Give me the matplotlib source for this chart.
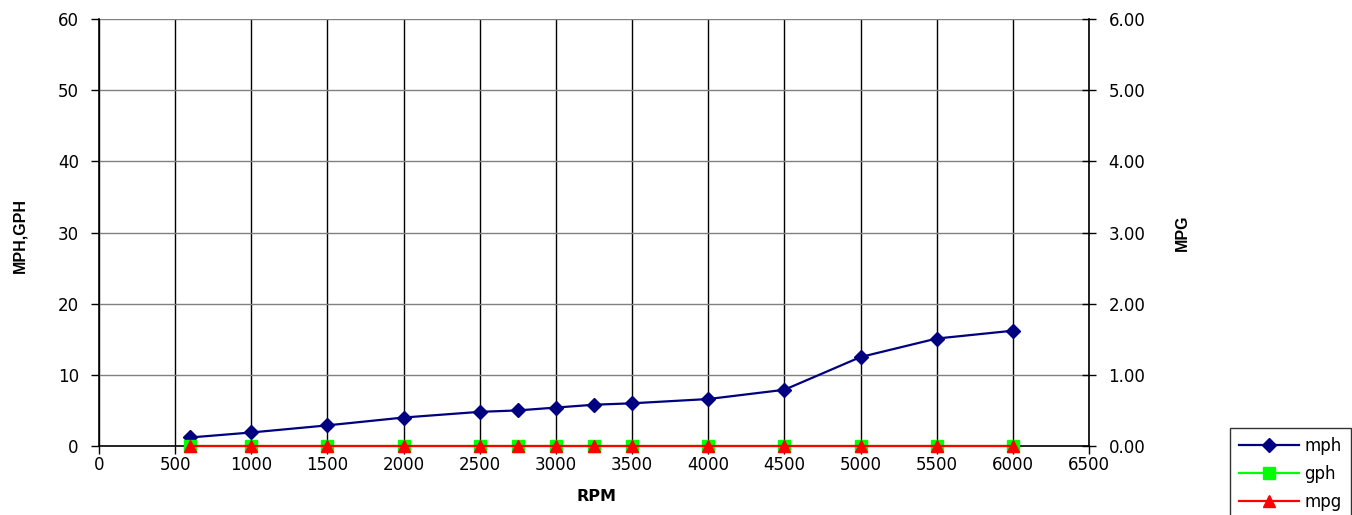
import matplotlib
matplotlib.use("Agg")
import matplotlib.pyplot as plt
from matplotlib.ticker import FormatStrFormatter, MultipleLocator

rpm = [600, 1000, 1500, 2000, 2500, 2750, 3000, 3250, 3500, 4000, 4500, 5000, 5500, 6000]
mph = [1.2, 1.9, 2.9, 4.0, 4.8, 5.0, 5.4, 5.8, 6.0, 6.6, 7.9, 12.5, 15.1, 16.2]
gph = [0, 0, 0, 0, 0, 0, 0, 0, 0, 0, 0, 0, 0, 0]
mpg = [0, 0, 0, 0, 0, 0, 0, 0, 0, 0, 0, 0, 0, 0]

plt.rcParams['font.family'] = ['DejaVu Sans']

fig = plt.figure(figsize=(13.52, 5.15), dpi=100)
ax = fig.add_axes([99/1352, 69/515, 990/1352, 427/515])
ax2 = ax.twinx()

ax.set_xlim(0, 6500)
ax.set_ylim(0, 60)
ax2.set_ylim(0, 6)
ax.xaxis.set_major_locator(MultipleLocator(500))
ax.yaxis.set_major_locator(MultipleLocator(10))
ax2.yaxis.set_major_locator(MultipleLocator(1))
ax2.yaxis.set_major_formatter(FormatStrFormatter('%.2f'))

ax.grid(axis='y', color='#808080', linewidth=1.0)
ax.grid(axis='x', color='black', linewidth=1.0)
ax.set_axisbelow(True)

ax.spines['top'].set_visible(False)
ax2.spines['top'].set_visible(False)
ax2.spines['left'].set_visible(False)
ax2.spines['bottom'].set_visible(False)
ax.spines['right'].set_visible(False)
for sp in [ax.spines['left'], ax.spines['bottom'], ax2.spines['right']]:
    sp.set_color('black')
    sp.set_linewidth(1.2)

ax.tick_params(axis='both', labelsize=12, length=5.5, width=1, colors='black', direction='out')
ax.tick_params(axis='y', pad=9)
ax.tick_params(axis='x', pad=2)
ax2.tick_params(axis='y', labelsize=12, length=10, width=1, direction='inout', pad=9)

l1, = ax.plot(rpm, mph, color='#000080', linewidth=1.6, marker='D', markersize=7, label='mph', zorder=3)
l2, = ax.plot(rpm, gph, color='#00FF00', linewidth=1.6, marker='s', markersize=8, label='gph', zorder=3, clip_on=False)
l3, = ax2.plot(rpm, mpg, color='#FF0000', linewidth=1.6, marker='^', markersize=8.5, label='mpg', zorder=4, clip_on=False)

lab_font = dict(family=['Liberation Sans', 'DejaVu Sans'], fontweight='bold', fontsize=11.5)
ax.set_xlabel('RPM', fontweight='bold', fontsize=11.5)
ax.set_ylabel('MPH,GPH', **lab_font)
ax2.set_ylabel('MPG', **lab_font)
ax.xaxis.set_label_coords(0.503, -0.119)
ax.xaxis.label.set_va('center')
ax.yaxis.set_label_coords(-0.0798, 0.492)
ax.yaxis.label.set_va('center')
ax.yaxis.label.set_ha('center')
ax2.yaxis.set_label_coords(1.094, 0.50)
ax2.yaxis.label.set_va('center')
ax2.yaxis.label.set_ha('center')

leg = fig.legend(handles=[l1, l2, l3], loc='upper left', bbox_to_anchor=(1230/1352, 1 - 428/515),
                 fontsize=12, frameon=True, fancybox=False, handlelength=3.6, labelspacing=0.6,
                 borderpad=0.55, handletextpad=0.3, borderaxespad=0)
leg.get_frame().set_edgecolor('black')
leg.get_frame().set_linewidth(1.0)

fig.savefig('out.png', dpi=100)
